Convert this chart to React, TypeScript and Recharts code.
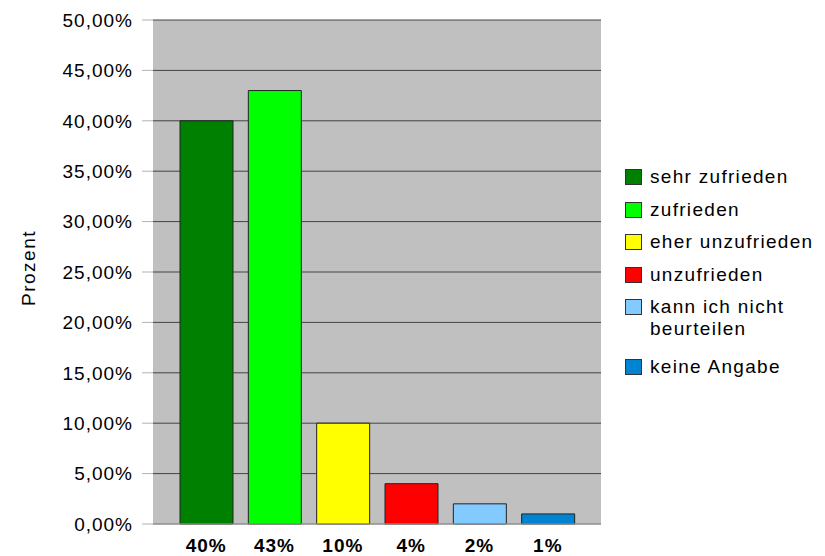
import { BarChart, Bar, XAxis, YAxis, CartesianGrid, Cell } from "recharts"

// answer categories (legend) and shares in percent
const answers = ["sehr zufrieden", "zufrieden", "eher unzufrieden", "unzufrieden", "kann ich nicht beurteilen", "keine Angabe"]
const shares = [40, 43, 10, 4, 2, 1]
const barLabels = ["40%", "43%", "10%", "4%", "2%", "1%"]
const colors = ["#008000", "#00ff00", "#ffff00", "#ff0000", "#83caff", "#0084d1"]
const yTicks = [0, 5, 10, 15, 20, 25, 30, 35, 40, 45, 50]

const data = barLabels.map((name, i) => ({ name, value: shares[i], answer: answers[i] }))

const font = "'Liberation Sans', Arial, sans-serif"

function ProzentLabel() {
  return (
    <text x={35} y={268} transform="rotate(-90 35 268)" textAnchor="middle" fontSize={19} fill="#000" fontFamily={font} letterSpacing={1.5}>
      Prozent
    </text>
  )
}

function ChartLegend() {
  return (
    <div style={{ position: "absolute", left: 625, top: 169, fontFamily: font, fontSize: 19, letterSpacing: 1.3, color: "#000" }}>
      {answers.map((a, i) => {
        const twoLines = a === "kann ich nicht beurteilen"
        return (
          <div key={a} style={{ display: "flex", alignItems: "flex-start", height: twoLines ? 60 : 32.5, width: 200 }}>
            <span style={{ display: "inline-block", width: 15, height: 14, background: colors[i], border: "1px solid #333", flexShrink: 0 }} />
            <span style={{ marginLeft: 8, lineHeight: "22px", marginTop: -3, width: 180, whiteSpace: "nowrap" }}>
              {twoLines ? <>kann ich nicht<br />beurteilen</> : a}
            </span>
          </div>
        )
      })}
    </div>
  )
}

export default function App() {
  return (
    <div style={{ position: "absolute", left: 0, top: 0, width: 825, height: 556, background: "#fff", fontFamily: font }}>
      <BarChart width={825} height={556} data={data} margin={{ top: 20, right: 224, bottom: 0, left: 0 }}>
        <CartesianGrid vertical={false} fill="#c0c0c0" fillOpacity={1} stroke="#444" strokeOpacity={1} />
        <XAxis
          dataKey="name"
          height={32}
          padding={{ left: 19, right: 19 }}
          axisLine={{ stroke: "#b3b3b3" }}
          tickLine={false}
          tickSize={0}
          tickMargin={15}
          interval={0}
          tick={{ fontSize: 19, fontWeight: "bold", fill: "#000", fontFamily: font, letterSpacing: 1 }}
        />
        <YAxis
          width={153}
          domain={[0, 50]}
          ticks={yTicks}
          interval={0}
          axisLine={false}
          tickLine={{ stroke: "#b3b3b3" }}
          tickSize={11}
          tickMargin={9}
          tickFormatter={(v: number) => v.toFixed(2).replace(".", ",") + "%"}
          tick={{ fontSize: 19, fill: "#000", fontFamily: font, letterSpacing: 1 }}
          label={<ProzentLabel />}
        />
        <Bar dataKey="value" barSize={53} stroke="#222" strokeWidth={1} isAnimationActive={false}>
          {data.map((d, i) => (
            <Cell key={d.name} fill={colors[i]} />
          ))}
        </Bar>
      </BarChart>
      <ChartLegend />
    </div>
  )
}
